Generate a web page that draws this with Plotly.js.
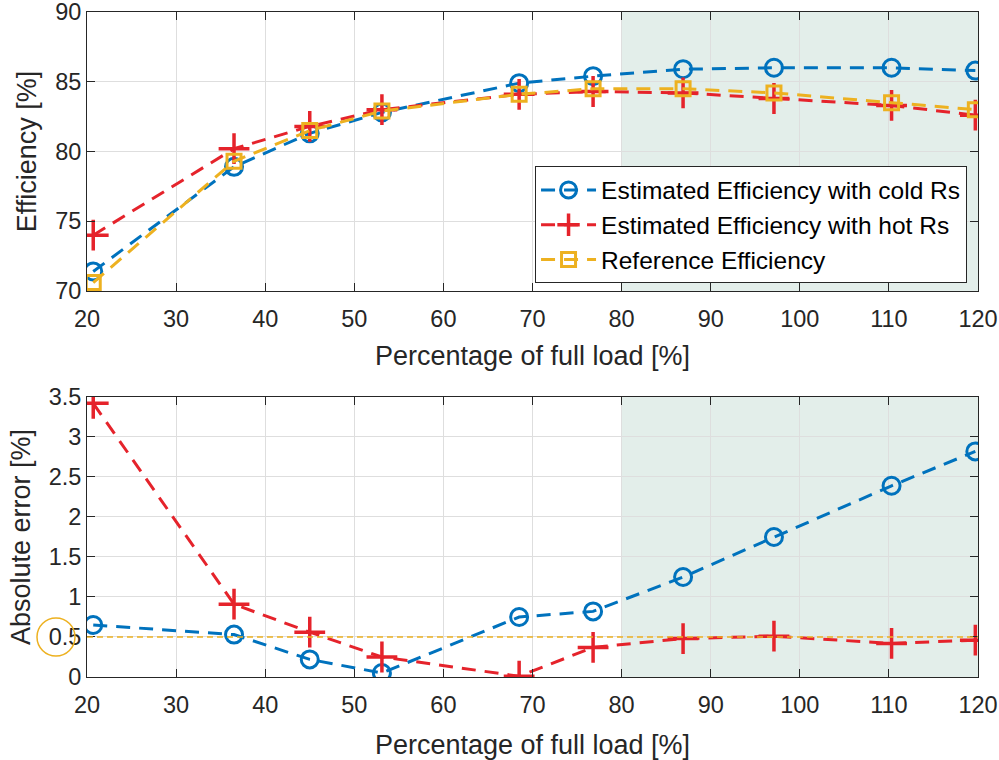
<!DOCTYPE html>
<html>
<head>
<meta charset="utf-8">
<script src="https://cdn.plot.ly/plotly-3.0.1.min.js"></script>
<style>html,body{margin:0;padding:0;background:#fff;}#chart{width:999px;height:760px;}</style>
</head>
<body>
<div id="chart"></div>
<script>
// ---- data ----
const loadPct = [20.7, 36.5, 45.0, 53.1, 68.5, 76.8, 86.9, 97.1, 110.3, 119.7];
const effCold = [71.4, 78.9, 81.3, 82.8, 84.9, 85.4, 85.9, 86.0, 86.0, 85.8];
const effHot  = [74.0, 80.2, 81.8, 83.0, 84.1, 84.3, 84.2, 83.8, 83.3, 82.6];
const effRef  = [70.6, 79.3, 81.5, 82.9, 84.1, 84.5, 84.5, 84.2, 83.5, 83.0];
const errCold = [0.65, 0.53, 0.22, 0.05, 0.75, 0.82, 1.25, 1.75, 2.39, 2.82];
const errHot  = [3.42, 0.91, 0.56, 0.25, 0.01, 0.37, 0.48, 0.51, 0.42, 0.46];
const errThreshold = 0.5;
const shadeRange = [80, 120];
const seriesNames = ["Estimated Efficiency with cold Rs", "Estimated Efficiency with hot Rs", "Reference Efficiency"];
const xTitle = "Percentage of full load [%]";

const BLUE = "#0072BD", RED = "#E5232B", YEL = "#EDB120", INK = "#262626";
const FONT = "Liberation Sans, Arial, sans-serif";
const dash = "14px,9px";

function tr(x, y, name, color, symbol, size, xa, ya, show, lw) {
  return {
    x: x, y: y, name: name, type: "scatter", mode: "lines+markers",
    xaxis: xa, yaxis: ya, showlegend: show, legendgroup: name,
    line: {color: color, width: 3, dash: dash},
    marker: {symbol: symbol, size: size, color: color, line: {color: color, width: lw}}
  };
}

const traces = [
  tr(loadPct, effCold, seriesNames[0], BLUE, "circle-open", 17, "x", "y", true, 3),
  tr(loadPct, effHot, seriesNames[1], RED, "cross-thin-open", 22, "x", "y", true, 3.5),
  tr(loadPct, effRef, seriesNames[2], YEL, "square-open", 14, "x", "y", true, 3),
  tr(loadPct, errCold, seriesNames[0], BLUE, "circle-open", 17, "x2", "y2", false, 3),
  tr(loadPct, errHot, seriesNames[1], RED, "cross-thin-open", 22, "x2", "y2", false, 3.5)
];

const axBase = {
  showline: true, linecolor: INK, linewidth: 1, mirror: "ticks",
  ticks: "inside", ticklen: 8, tickcolor: INK, tickwidth: 1,
  showgrid: true, gridcolor: "#dedede", gridwidth: 1, zeroline: false,
  tickfont: {family: FONT, size: 23.5, color: INK},
  ticklabeloverflow: "allow"
};
const titleFont = {family: FONT, size: 27, color: INK};

const layout = {
  width: 999, height: 760,
  margin: {l: 87, r: 21, t: 12, b: 83},
  paper_bgcolor: "#fff", plot_bgcolor: "#fff",
  font: {family: FONT, color: INK},
  showlegend: true,
  legend: {
    x: 0.9877, xanchor: "right", y: 0.6797, yanchor: "middle",
    bgcolor: "#fff", bordercolor: INK, borderwidth: 1,
    font: {family: FONT, size: 24.5, color: "#000"},
    tracegroupgap: 0, itemwidth: 55
  },
  xaxis: Object.assign({}, axBase, {
    domain: [0, 1], range: [20, 120], dtick: 10, anchor: "y", ticklabelstandoff: 7,
    title: {text: xTitle, font: titleFont, standoff: 14}
  }),
  yaxis: Object.assign({}, axBase, {
    domain: [0.5805, 1], range: [70, 90], dtick: 5, anchor: "x",
    title: {text: "Efficiency [%]", font: titleFont, standoff: 10}
  }),
  xaxis2: Object.assign({}, axBase, {
    domain: [0, 1], range: [20, 120], dtick: 10, anchor: "y2", ticklabelstandoff: 7,
    title: {text: xTitle, font: titleFont, standoff: 17}
  }),
  yaxis2: Object.assign({}, axBase, {
    domain: [0, 0.4211], range: [0, 3.5], dtick: 0.5, anchor: "x2",
    title: {text: "Absolute error [%]", font: titleFont, standoff: 10}
  }),
  shapes: [
    {type: "rect", xref: "x", yref: "y domain", x0: shadeRange[0], x1: shadeRange[1], y0: 0, y1: 1,
     fillcolor: "#e3eeea", line: {width: 0}, layer: "below"},
    {type: "rect", xref: "x2", yref: "y2 domain", x0: shadeRange[0], x1: shadeRange[1], y0: 0, y1: 1,
     fillcolor: "#e3eeea", line: {width: 0}, layer: "below"},
    {type: "line", xref: "x2 domain", yref: "y2", x0: 0, x1: 1, y0: errThreshold, y1: errThreshold,
     line: {color: YEL, width: 1.5, dash: "6px,4px"}, layer: "above"},
    {type: "circle", xref: "paper", xsizemode: "pixel", xanchor: -0.0348, x0: -19, x1: 19,
     yref: "y2", ysizemode: "pixel", yanchor: errThreshold, y0: -19, y1: 19,
     line: {color: YEL, width: 1.5}, fillcolor: "rgba(0,0,0,0)"}
  ]
};

Plotly.newPlot("chart", traces, layout, {displayModeBar: false, staticPlot: true});
</script>
</body>
</html>
